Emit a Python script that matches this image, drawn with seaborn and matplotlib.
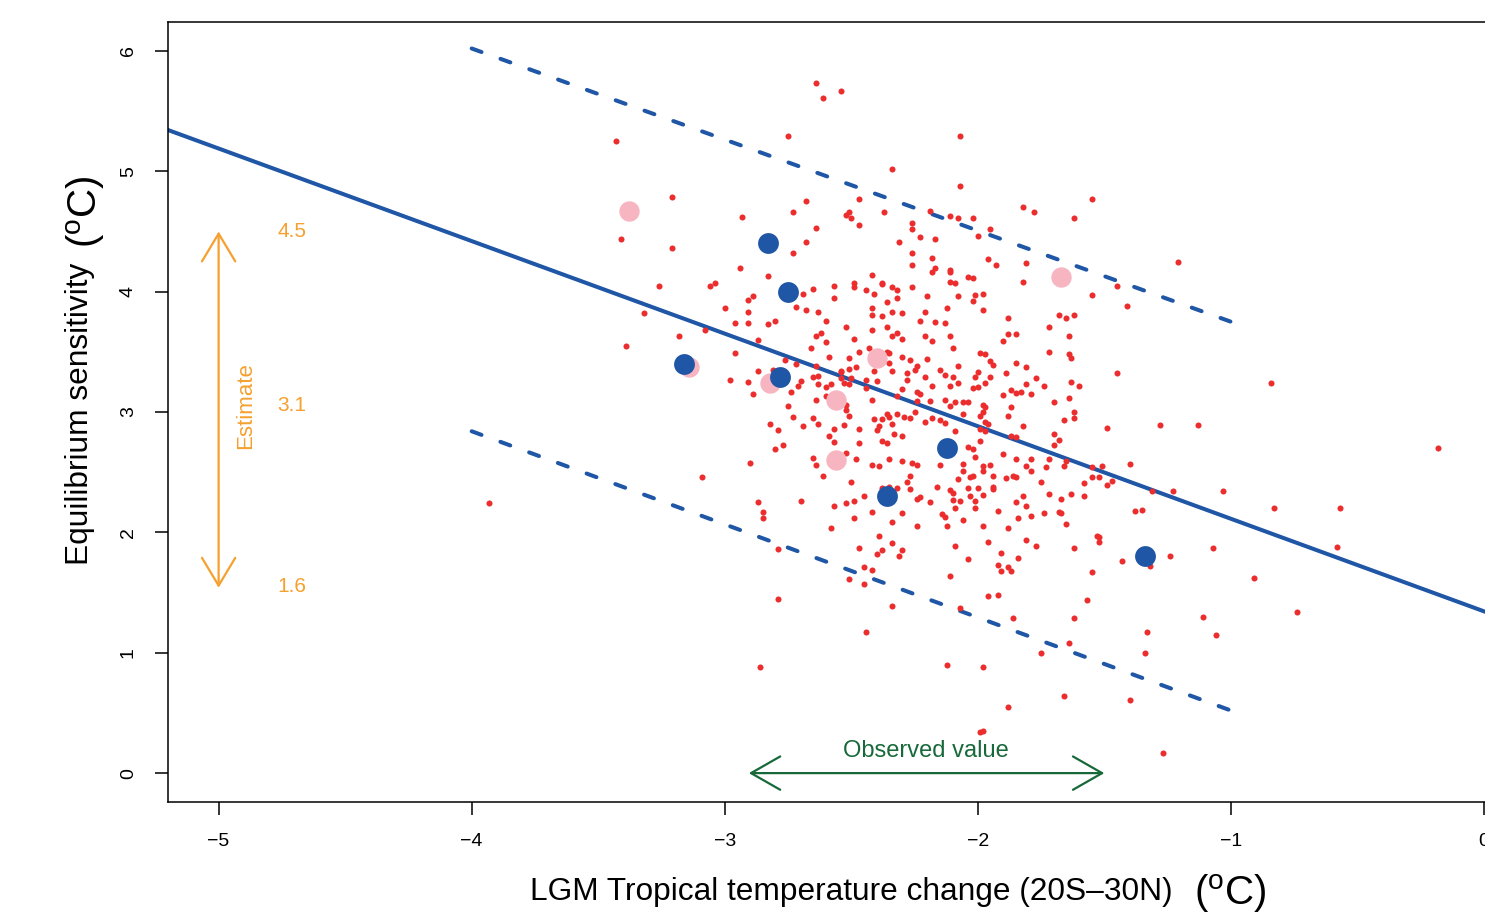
import matplotlib
matplotlib.use("Agg")
import matplotlib.pyplot as plt
import seaborn as sns
import numpy as np

# ---------------- data ----------------
red_pts = [
    (-3.43, 5.25), (-3.21, 4.79), (-3.41, 4.44), (-3.21, 4.36), (-3.26, 4.05), (-3.06, 4.05), (-3.04, 4.07),
    (-3.32, 3.82), (-3.08, 3.68), (-3.18, 3.63), (-3.39, 3.55), (-3.09, 2.46), (-3.93, 2.24),
    (-2.64, 5.73), (-2.61, 5.61), (-2.54, 5.67), (-2.75, 5.29), (-2.34, 5.02), (-2.47, 4.77), (-2.68, 4.75),
    (-2.73, 4.66), (-2.93, 4.62), (-2.51, 4.66), (-2.52, 4.64), (-2.50, 4.61), (-2.37, 4.66), (-2.47, 4.55),
    (-2.26, 4.57), (-2.26, 4.52), (-2.23, 4.45), (-2.64, 4.53), (-2.31, 4.41), (-2.68, 4.41), (-2.73, 4.32),
    (-2.26, 4.32), (-2.26, 4.22), (-2.94, 4.20),
    (-2.07, 5.29), (-2.07, 4.88), (-1.55, 4.77), (-2.19, 4.67), (-1.82, 4.70), (-1.78, 4.66), (-1.62, 4.61),
    (-2.11, 4.63), (-2.08, 4.61), (-2.02, 4.61), (-1.95, 4.52), (-2.17, 4.44), (-2.00, 4.46), (-2.18, 4.28),
    (-1.96, 4.27), (-1.93, 4.22), (-1.81, 4.24), (-2.17, 4.20), (-2.11, 4.18),
    (-2.83, 4.13), (-2.42, 4.14), (-2.49, 4.07), (-2.49, 4.04), (-2.38, 4.07), (-2.38, 4.06), (-2.34, 4.04),
    (-2.32, 4.01), (-2.26, 4.04), (-2.57, 4.05), (-2.65, 4.02), (-2.69, 3.98), (-2.44, 4.01), (-2.41, 3.98),
    (-2.89, 3.96), (-2.91, 3.93), (-2.57, 3.95), (-2.32, 3.95), (-3.00, 3.86), (-2.72, 3.87), (-2.68, 3.85),
    (-2.91, 3.83), (-2.63, 3.83), (-2.42, 3.86), (-2.36, 3.91), (-2.38, 3.80), (-2.42, 3.81), (-2.34, 3.83),
    (-2.30, 3.82), (-2.23, 3.76), (-2.96, 3.74), (-2.91, 3.74), (-2.83, 3.73), (-2.80, 3.76), (-2.60, 3.76),
    (-2.52, 3.71), (-2.36, 3.71), (-2.42, 3.68), (-2.32, 3.66), (-2.30, 3.61), (-2.34, 3.63), (-2.62, 3.66),
    (-2.64, 3.63), (-2.49, 3.61), (-2.87, 3.60), (-2.60, 3.58), (-2.66, 3.53), (-2.96, 3.49), (-2.47, 3.50),
    (-2.43, 3.53), (-2.36, 3.50), (-2.35, 3.49), (-2.30, 3.46), (-2.27, 3.43), (-2.59, 3.46), (-2.51, 3.45),
    (-2.76, 3.43), (-2.72, 3.40), (-2.24, 3.38), (-2.25, 3.35), (-2.35, 3.41), (-2.34, 3.34), (-2.48, 3.37),
    (-2.51, 3.36), (-2.54, 3.34), (-2.54, 3.33), (-2.64, 3.38), (-2.41, 3.34), (-2.28, 3.32), (-2.28, 3.27),
    (-2.98, 3.27), (-2.91, 3.25), (-2.87, 3.34), (-2.81, 3.35), (-2.70, 3.26), (-2.71, 3.22), (-2.65, 3.29),
    (-2.63, 3.30), (-2.63, 3.23), (-2.60, 3.21), (-2.58, 3.23), (-2.54, 3.28), (-2.53, 3.24), (-2.50, 3.28),
    (-2.51, 3.23), (-2.44, 3.27), (-2.40, 3.26), (-2.44, 3.20), (-2.30, 3.19), (-2.24, 3.17), (-2.89, 3.15),
    (-2.74, 3.17), (-2.60, 3.13), (-2.64, 3.10), (-2.42, 3.10), (-2.32, 3.13), (-2.24, 3.09), (-2.75, 3.05),
    (-2.52, 3.06), (-2.52, 3.02), (-2.51, 2.97), (-2.25, 3.00), (-2.73, 2.96), (-2.65, 2.95), (-2.41, 2.94),
    (-2.36, 2.98), (-2.35, 2.96), (-2.38, 2.94), (-2.32, 2.98), (-2.29, 2.96), (-2.27, 2.95), (-2.82, 2.90),
    (-2.63, 2.90), (-2.69, 2.88), (-2.53, 2.89), (-2.39, 2.88), (-2.40, 2.85), (-2.34, 2.90), (-2.47, 2.86),
    (-2.79, 2.85), (-2.57, 2.86), (-2.33, 2.82), (-2.30, 2.80), (-2.59, 2.80), (-2.57, 2.75), (-2.47, 2.74),
    (-2.38, 2.76), (-2.36, 2.74), (-2.77, 2.73), (-2.80, 2.69), (-2.52, 2.66), (-2.65, 2.62), (-2.48, 2.61),
    (-2.35, 2.61), (-2.30, 2.59), (-2.26, 2.58), (-2.24, 2.56), (-2.90, 2.58), (-2.64, 2.56), (-2.42, 2.56),
    (-2.39, 2.55),
    (-2.18, 4.16), (-2.11, 4.16), (-2.04, 4.12), (-2.02, 4.11), (-2.11, 4.08), (-2.09, 4.07), (-1.82, 4.08),
    (-1.45, 4.05), (-1.55, 3.97), (-2.20, 3.96), (-2.08, 3.96), (-2.01, 3.97), (-1.98, 3.98), (-2.02, 3.92),
    (-2.12, 3.86), (-1.98, 3.85), (-2.21, 3.83), (-1.68, 3.81), (-1.65, 3.78), (-1.62, 3.81), (-1.88, 3.78),
    (-2.17, 3.75), (-2.13, 3.74), (-1.72, 3.71), (-1.88, 3.65), (-1.85, 3.65), (-2.21, 3.63), (-1.90, 3.59),
    (-1.64, 3.63), (-2.18, 3.59), (-2.11, 3.63), (-2.10, 3.53), (-1.99, 3.49), (-1.97, 3.48), (-1.72, 3.50),
    (-1.64, 3.48), (-1.63, 3.45), (-2.20, 3.44), (-1.95, 3.42), (-1.94, 3.39), (-1.85, 3.41), (-2.08, 3.38),
    (-1.81, 3.37), (-2.15, 3.35), (-2.00, 3.33), (-2.01, 3.29), (-2.13, 3.31), (-1.89, 3.32), (-1.45, 3.32),
    (-2.21, 3.29), (-2.10, 3.29), (-1.95, 3.29), (-1.97, 3.24), (-1.77, 3.28), (-1.63, 3.25), (-2.18, 3.22),
    (-2.08, 3.24), (-2.11, 3.22), (-2.02, 3.20), (-2.00, 3.21), (-1.81, 3.23), (-1.74, 3.22), (-1.60, 3.22),
    (-1.87, 3.18), (-1.85, 3.16), (-1.83, 3.17), (-1.90, 3.14), (-1.79, 3.15), (-1.64, 3.12), (-2.23, 3.15),
    (-2.13, 3.10), (-2.19, 3.09), (-2.09, 3.08), (-2.06, 3.08), (-2.04, 3.08), (-2.11, 3.05), (-1.98, 3.06),
    (-1.97, 3.04), (-1.70, 3.08), (-1.87, 3.04), (-2.06, 2.98), (-1.99, 2.97), (-1.98, 3.00), (-1.88, 2.97),
    (-1.62, 3.00), (-1.62, 2.95), (-2.18, 2.95), (-2.15, 2.93), (-2.21, 2.92), (-2.13, 2.91), (-1.97, 2.92),
    (-1.96, 2.90), (-1.66, 2.93), (-1.82, 2.88), (-1.49, 2.87), (-1.99, 2.86), (-1.97, 2.84), (-2.09, 2.84),
    (-1.70, 2.82), (-1.68, 2.77), (-1.87, 2.80), (-1.85, 2.79), (-1.70, 2.73), (-1.99, 2.76), (-2.04, 2.71),
    (-2.02, 2.69), (-2.01, 2.63), (-1.90, 2.65), (-1.85, 2.61), (-1.79, 2.61), (-1.72, 2.61), (-1.65, 2.59),
    (-2.15, 2.56), (-2.06, 2.57), (-1.98, 2.55), (-1.95, 2.56), (-1.81, 2.55), (-1.73, 2.54), (-1.66, 2.55),
    (-1.55, 2.54), (-1.51, 2.55),
    (-2.61, 2.47), (-2.50, 2.42), (-2.27, 2.47), (-2.28, 2.42), (-2.27, 2.36), (-2.32, 2.37), (-2.35, 2.38),
    (-2.38, 2.37), (-2.24, 2.28), (-2.45, 2.30), (-2.49, 2.26), (-2.52, 2.24), (-2.57, 2.22), (-2.70, 2.26),
    (-2.87, 2.25), (-2.85, 2.17), (-2.85, 2.12), (-2.42, 2.17), (-2.30, 2.16), (-2.49, 2.12), (-2.34, 2.09),
    (-2.24, 2.05), (-2.58, 2.04), (-2.39, 1.97), (-2.34, 1.91), (-2.47, 1.87), (-2.38, 1.85), (-2.30, 1.85),
    (-2.40, 1.82), (-2.31, 1.80), (-2.79, 1.86), (-2.45, 1.71), (-2.42, 1.69), (-2.51, 1.61), (-2.45, 1.57),
    (-2.79, 1.45), (-2.34, 1.39), (-2.44, 1.17), (-2.86, 0.88),
    (-2.06, 2.51), (-1.98, 2.51), (-1.94, 2.47), (-2.02, 2.47), (-2.03, 2.46), (-1.86, 2.47), (-1.85, 2.46),
    (-1.79, 2.51), (-1.89, 2.45), (-2.08, 2.44), (-1.75, 2.42), (-1.58, 2.41), (-1.55, 2.46), (-1.52, 2.46),
    (-1.47, 2.43), (-1.49, 2.39), (-2.16, 2.38), (-2.11, 2.35), (-2.10, 2.33), (-2.04, 2.37), (-2.00, 2.37),
    (-1.94, 2.38), (-1.94, 2.36), (-2.23, 2.29), (-2.19, 2.25), (-2.10, 2.27), (-2.07, 2.26), (-2.03, 2.30),
    (-1.98, 2.31), (-2.01, 2.26), (-1.82, 2.30), (-1.85, 2.25), (-1.81, 2.22), (-1.72, 2.32), (-1.63, 2.32),
    (-1.58, 2.30), (-1.67, 2.28), (-2.09, 2.20), (-2.01, 2.20), (-1.92, 2.18), (-2.14, 2.15), (-2.13, 2.13),
    (-1.74, 2.16), (-1.68, 2.17), (-1.67, 2.16), (-1.79, 2.14), (-1.84, 2.12), (-2.06, 2.10), (-1.65, 2.07),
    (-2.12, 2.05), (-1.98, 2.05), (-1.88, 2.04), (-1.53, 1.97), (-1.52, 1.96), (-1.52, 1.92), (-1.81, 1.94),
    (-1.96, 1.92), (-2.09, 1.89), (-1.77, 1.89), (-1.62, 1.87), (-1.91, 1.83), (-1.84, 1.79), (-2.04, 1.78),
    (-1.92, 1.73), (-1.88, 1.71), (-1.87, 1.68), (-1.91, 1.68), (-1.55, 1.67), (-2.11, 1.64), (-1.96, 1.47),
    (-1.92, 1.48), (-1.57, 1.44), (-2.07, 1.37), (-1.86, 1.29), (-1.62, 1.29), (-1.64, 1.08), (-1.75, 1.00),
    (-2.12, 0.90), (-1.98, 0.88),
    (-1.21, 4.25), (-1.41, 3.88), (-0.84, 3.24), (-1.28, 2.89), (-1.13, 2.89), (-0.18, 2.70), (-1.40, 2.57),
    (-1.31, 2.34), (-1.23, 2.34), (-1.03, 2.34), (-1.38, 2.18), (-1.35, 2.19), (-0.83, 2.20), (-0.57, 2.20),
    (-1.07, 1.87), (-0.58, 1.88), (-1.43, 1.76), (-1.24, 1.80), (-1.32, 1.72), (-0.91, 1.62),
    (-1.33, 1.17), (-1.11, 1.30), (-1.06, 1.15), (-0.74, 1.34), (-1.34, 1.00), (-1.66, 0.64), (-1.40, 0.61),
    (-1.88, 0.55), (-1.99, 0.34), (-1.98, 0.35), (-1.27, 0.17),
]
red_x = [p[0] for p in red_pts]
red_y = [p[1] for p in red_pts]

blue_x = [-2.83, -2.75, -3.16, -2.78, -2.12, -2.36, -1.34]
blue_y = [4.40, 4.00, 3.40, 3.29, 2.70, 2.30, 1.80]

pink_x = [-3.38, -3.14, -2.82, -2.40, -2.56, -2.56, -1.67]
pink_y = [4.67, 3.37, 3.24, 3.45, 3.10, 2.60, 4.12]

fit_intercept = 1.344
fit_slope = -0.769

band_x = [-4.0, -1.0]
band_upper = [6.02, 3.75]
band_lower = [2.84, 0.52]

estimate_range = [4.5, 1.54]
estimate_labels = ["4.5", "3.1", "1.6"]
estimate_label_y = [4.5, 3.05, 1.55]

observed_range = [-2.905, -1.50]

x_ticks = [-5, -4, -3, -2, -1, 0]
y_ticks = [0, 1, 2, 3, 4, 5, 6]

# ---------------- style ----------------
sns.set_style("ticks")
plt.rcParams["font.family"] = ["Liberation Sans", "DejaVu Sans"]
plt.rcParams["mathtext.default"] = "regular"
plt.rcParams["text.color"] = "black"
plt.rcParams["axes.labelcolor"] = "black"

RED = "#EC2D2D"
BLUE = "#1F56A5"
PINK = "#F6B5C1"
ORANGE = "#F5A02F"
GREEN = "#17693A"

fig = plt.figure(figsize=(14.85, 9.16), dpi=100)
ax = fig.add_axes([0.11313, 0.12445, 0.92027, 0.85153])

# regression line
fx = np.array([-5.3, 0.3])
ax.plot(fx, fit_intercept + fit_slope * fx, color=BLUE, lw=2.9, zorder=1,
        solid_capstyle="butt")
# prediction band (dashed)
for by in (band_upper, band_lower):
    ax.plot(band_x, by, color=BLUE, lw=2.9, linestyle=(0, (2.6, 5.0)),
            dash_capstyle="round", zorder=1)

sns.scatterplot(x=red_x, y=red_y, ax=ax, color=RED, s=19, linewidth=0, zorder=2)
sns.scatterplot(x=pink_x, y=pink_y, ax=ax, color=PINK, s=215, linewidth=0, zorder=3)
sns.scatterplot(x=blue_x, y=blue_y, ax=ax, color=BLUE, s=225, linewidth=0, zorder=4)

# estimate arrow
ax.annotate("", xy=(-5.0, estimate_range[0]), xytext=(-5.0, estimate_range[1]),
            arrowprops=dict(arrowstyle="<->,head_length=1.0,head_width=0.6",
                            color=ORANGE, lw=1.6, shrinkA=0, shrinkB=0,
                            mutation_scale=20), zorder=5)
for lab, yy in zip(estimate_labels, estimate_label_y):
    ax.text(-4.767, yy, lab, color=ORANGE, fontsize=15, ha="left", va="center")
ax.text(-4.895, 3.05, "Estimate", color=ORANGE, fontsize=16, rotation=90,
        ha="center", va="center")

# observed value arrow
ax.annotate("", xy=(observed_range[0], 0.0), xytext=(observed_range[1], 0.0),
            arrowprops=dict(arrowstyle="<->,head_length=1.05,head_width=0.6",
                            color=GREEN, lw=1.6, shrinkA=0, shrinkB=0,
                            mutation_scale=20), zorder=5)
ax.text(-2.206, 0.18, "Observed value", color=GREEN, fontsize=17,
        ha="center", va="center")

ax.set_xlim(-5.2, 0.2)
ax.set_ylim(-0.24, 6.24)
ax.set_xticks(x_ticks)
ax.set_yticks(y_ticks)
ax.set_xticklabels([f"\u2212{abs(t)}" if t < 0 else str(t) for t in x_ticks])
ax.set_yticklabels([str(t) for t in y_ticks], rotation=90, va="center")
ax.tick_params(axis="both", direction="out", length=9.4, width=1.1,
               labelsize=14, colors="black")
ax.tick_params(axis="x", pad=13)
ax.tick_params(axis="y", pad=13)
for s in ax.spines.values():
    s.set_visible(True)
    s.set_linewidth(1.1)
    s.set_color("black")
ax.set_xlabel("")
ax.set_ylabel("")

# axis titles
fig.text(530 / 1485, (916 - 900) / 916, "LGM Tropical temperature change (20S\u201330N)",
         fontsize=22.75, ha="left", va="baseline", color="black")
fig.text(1194 / 1485, (916 - 905) / 916, r"($^{o}$C)",
         fontsize=29, ha="left", va="baseline", color="black")
fig.text(88 / 1485, (916 - 565) / 916, "Equilibrium sensitivity",
         fontsize=22.75, rotation=90, ha="left", va="baseline", rotation_mode="anchor",
         color="black")
fig.text(97 / 1485, (916 - 248) / 916, r"($^{o}$C)",
         fontsize=29, rotation=90, ha="left", va="baseline", rotation_mode="anchor",
         color="black")

fig.savefig("out.png", dpi=100)
